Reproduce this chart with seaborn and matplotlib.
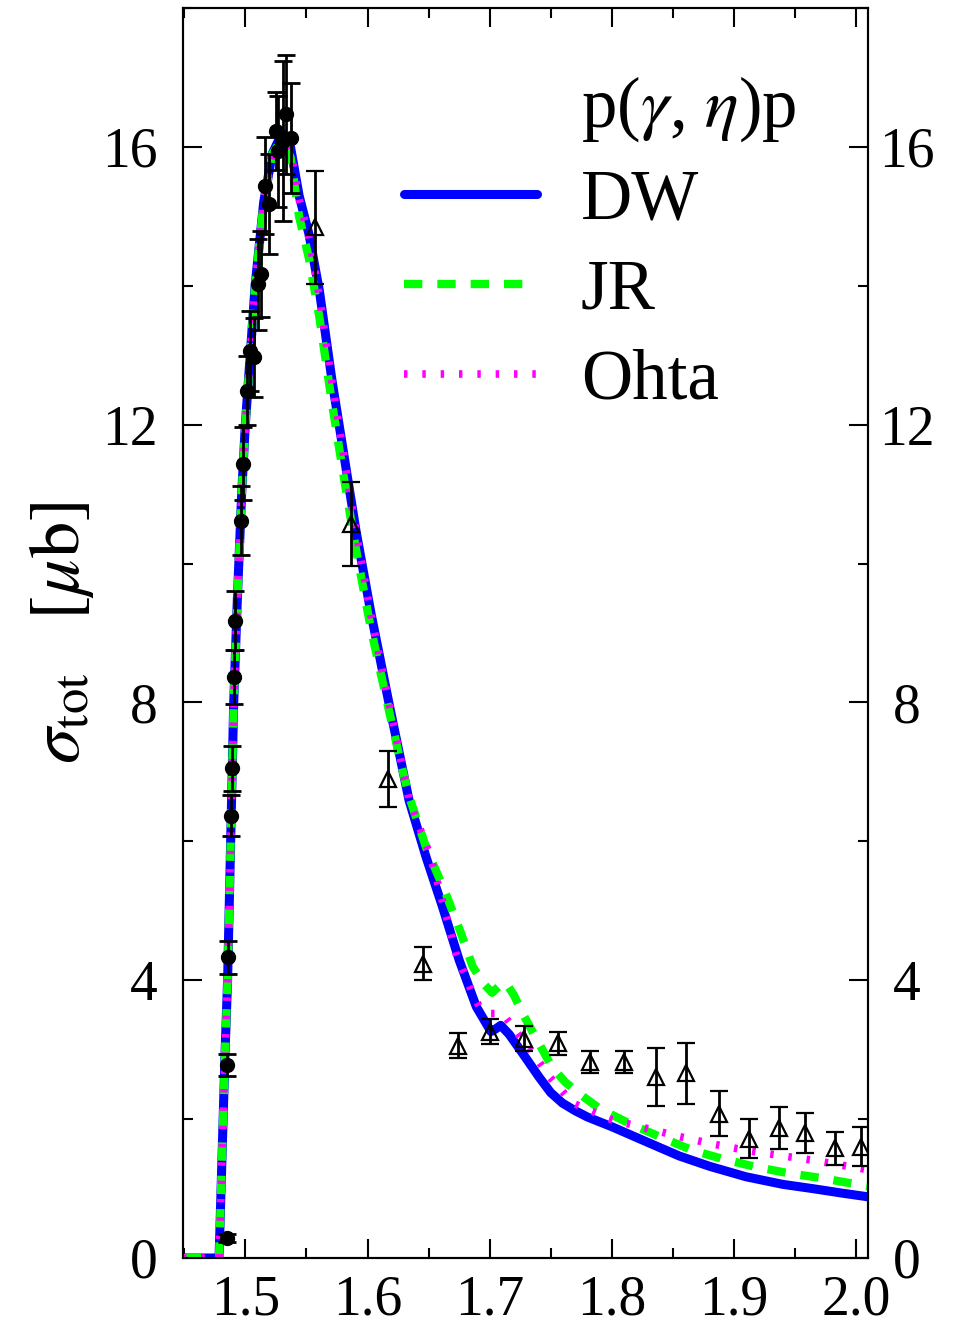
import numpy as np
import pandas as pd
import matplotlib
matplotlib.use("Agg")
import matplotlib.pyplot as plt
import seaborn as sns
from matplotlib.lines import Line2D
from matplotlib.ticker import MultipleLocator

# ---------------- data ----------------
dw_x = [1.449, 1.4785, 1.481, 1.4835, 1.4855, 1.488, 1.4905, 1.4935, 1.497, 1.500, 1.504, 1.508,
        1.515, 1.522, 1.530, 1.537, 1.544, 1.552, 1.5606, 1.571, 1.581, 1.5906, 1.6029, 1.618,
        1.634, 1.648, 1.6615, 1.675, 1.689, 1.701, 1.705, 1.709, 1.716, 1.728, 1.7406, 1.750,
        1.7596, 1.770, 1.780, 1.800, 1.830, 1.855, 1.880, 1.9097, 1.940, 1.964, 1.990, 2.010]
dw_y = [0, 0, 1.5, 3.0, 4.0, 6.0, 8.0, 9.5, 11.0, 12.0, 13.0, 14.0,
        15.2, 15.9, 16.2, 16.0, 15.3, 14.75, 13.93, 12.63, 11.53, 10.47, 9.28, 7.95,
        6.59, 5.77, 5.05, 4.29, 3.62, 3.26, 3.30, 3.35, 3.22, 2.92, 2.60, 2.38,
        2.23, 2.12, 2.03, 1.89, 1.66, 1.47, 1.32, 1.17, 1.06, 1.00, 0.93, 0.88]

jr_x = [1.449, 1.4785, 1.481, 1.4835, 1.4855, 1.488, 1.4905, 1.4935, 1.497, 1.500, 1.504, 1.508,
        1.515, 1.522, 1.530, 1.537, 1.544, 1.552, 1.5606, 1.571, 1.581, 1.5906, 1.6029, 1.618,
        1.628, 1.634, 1.648, 1.664, 1.676, 1.686, 1.695, 1.702, 1.708, 1.713, 1.720, 1.727,
        1.740, 1.751, 1.762, 1.773, 1.790, 1.814, 1.840, 1.866, 1.890, 1.918, 1.945, 1.972, 2.010]
jr_y = [0, 0, 1.5, 3.0, 4.0, 6.0, 8.0, 9.5, 11.0, 12.0, 13.0, 14.0,
        15.2, 15.9, 16.1, 15.85, 15.0, 14.4, 13.55, 12.3, 11.2, 10.2, 9.05, 7.85,
        7.07, 6.65, 5.91, 5.25, 4.7, 4.2, 3.95, 3.82, 3.92, 3.97, 3.78, 3.52,
        3.1, 2.75, 2.53, 2.37, 2.15, 1.94, 1.74, 1.55, 1.43, 1.31, 1.22, 1.15, 1.03]

oh_x = [1.449, 1.4785, 1.481, 1.4835, 1.4855, 1.488, 1.4905, 1.4935, 1.497, 1.500, 1.504, 1.508,
        1.515, 1.522, 1.530, 1.537, 1.544, 1.552, 1.5606, 1.571, 1.581, 1.5906, 1.6029, 1.618,
        1.634, 1.6506, 1.659, 1.672, 1.686, 1.6915, 1.700, 1.7106, 1.720, 1.7406, 1.749, 1.768,
        1.800, 1.830, 1.855, 1.880, 1.910, 1.940, 1.964, 2.010]
oh_y = [0, 0, 1.5, 3.0, 4.0, 6.0, 8.0, 9.5, 11.0, 12.0, 13.0, 14.0,
        15.2, 15.9, 16.15, 15.95, 15.25, 14.7, 13.85, 12.6, 11.5, 10.45, 9.25, 7.95,
        6.6, 5.83, 5.3, 4.4, 3.81, 3.62, 3.52, 3.52, 3.3, 2.82, 2.61, 2.23,
        1.99, 1.86, 1.75, 1.65, 1.55, 1.47, 1.41, 1.27]

circ_x = [1.4853, 1.4853, 1.4860, 1.4885, 1.4894, 1.4908, 1.4919, 1.4962, 1.4984, 1.5016,
          1.5041, 1.5071, 1.5101, 1.5128, 1.5164, 1.5196, 1.5250, 1.5264, 1.5305, 1.5333, 1.5374]
circ_y = [0.29, 2.78, 4.33, 6.37, 7.05, 8.37, 9.18, 10.62, 11.44, 12.49,
          13.06, 12.97, 14.02, 14.17, 15.44, 15.18, 16.23, 15.94, 16.09, 16.47, 16.13]
circ_e = [0.06, 0.16, 0.24, 0.30, 0.33, 0.39, 0.43, 0.49, 0.53, 0.50,
          0.57, 0.57, 0.65, 0.62, 0.70, 0.72, 0.56, 0.80, 1.15, 0.86, 0.79]

tri_x = [1.5570, 1.5865, 1.6165, 1.6453, 1.6737, 1.7005, 1.7283, 1.7561, 1.7823, 1.8096,
         1.8357, 1.8603, 1.8873, 1.9124, 1.9364, 1.9583, 1.9823, 2.0038]
tri_y = [14.84, 10.57, 6.90, 4.24, 3.06, 3.26, 3.16, 3.09, 2.82, 2.82,
         2.61, 2.66, 2.08, 1.72, 1.87, 1.80, 1.58, 1.60]
tri_e = [0.82, 0.61, 0.40, 0.24, 0.18, 0.18, 0.18, 0.17, 0.16, 0.16,
         0.42, 0.44, 0.33, 0.28, 0.30, 0.29, 0.24, 0.28]

x_ticks = [1.5, 1.6, 1.7, 1.8, 1.9, 2.0]
y_ticks = [0, 4, 8, 12, 16]

# ---------------- style ----------------
sns.set_theme(style="ticks")
plt.rcParams["font.family"] = ["Liberation Serif", "DejaVu Serif"]
plt.rcParams["mathtext.fontset"] = "stix"
for k in ["text.color", "axes.labelcolor", "xtick.color", "ytick.color",
          "axes.edgecolor"]:
    plt.rcParams[k] = "black"

W, H = 966, 1329
fig = plt.figure(figsize=(W / 100, H / 100), dpi=100)
ax = fig.add_axes([183 / W, 1 - 1258 / H, 685 / W, 1250 / H])

sns.lineplot(x=dw_x, y=dw_y, ax=ax, color="#0000ff", lw=6.5, sort=False,
             estimator=None, solid_capstyle="butt", zorder=2)
sns.lineplot(x=jr_x, y=jr_y, ax=ax, color="#00ff00", lw=6.0, sort=False,
             estimator=None, linestyle=(0, (2.2, 1.8)), zorder=3)
sns.lineplot(x=oh_x, y=oh_y, ax=ax, color="#ff00ff", lw=5.5, sort=False,
             estimator=None, linestyle=(0, (0.45, 1.95)), zorder=4)

ax.errorbar(circ_x, circ_y, yerr=circ_e, fmt="o", color="black", ms=10,
            capsize=6.5, elinewidth=2, capthick=2, zorder=6)
ax.errorbar(tri_x, tri_y, yerr=tri_e, fmt="^", color="black", mfc="none",
            mec="black", mew=1.6, ms=11, capsize=6.5, elinewidth=2,
            capthick=2, zorder=6)

ax.set_xlim(1.449, 2.0096)
ax.set_ylim(0, 18)
ax.set_xticks(x_ticks)
ax.set_xticklabels([f"{v:.1f}" for v in x_ticks])
ax.set_yticks(y_ticks)
ax.set_yticklabels([str(v) for v in y_ticks])
ax.xaxis.set_minor_locator(MultipleLocator(0.05))
ax.yaxis.set_minor_locator(MultipleLocator(2))

for s in ax.spines.values():
    s.set_linewidth(1.5)
    s.set_color("black")
ax.tick_params(which="both", direction="in", top=True, right=True,
               width=1.5, color="black", labelcolor="black")
ax.tick_params(which="major", length=14, labelsize=40, pad=18)
ax.tick_params(which="minor", length=7)
ax.tick_params(axis="x", which="major", pad=12)

# right-hand labels, centred like the original
ax2 = ax.twinx()
ax2.set_ylim(ax.get_ylim())
ax2.set_yticks(y_ticks)
ax2.set_yticklabels([str(v) for v in y_ticks])
ax2.yaxis.set_minor_locator(MultipleLocator(2))
ax2.tick_params(which="both", direction="in", width=1.5, color="black",
                labelcolor="black")
ax2.tick_params(which="major", length=14, labelsize=40, pad=28)
ax2.tick_params(which="minor", length=7)
for lab in ax2.get_yticklabels():
    lab.set_horizontalalignment("center")
for s in ax2.spines.values():
    s.set_linewidth(1.5)
    s.set_color("black")

ax.set_ylabel(r"$\sigma_{\mathrm{tot}}\ \ \ [\mu\mathrm{b}]$", fontsize=52,
              color="black")
ax.yaxis.set_label_coords(-0.127, 0.5)

handles = [Line2D([], [], color="none"),
           Line2D([], [], color="#0000ff", lw=6.5),
           Line2D([], [], color="#00ff00", lw=6.0, linestyle=(0, (2.2, 1.8))),
           Line2D([], [], color="#ff00ff", lw=5.5, linestyle=(0, (0.45, 1.95)))]
labels = [r"p($\gamma$, $\eta$)p", "DW", "JR", "Ohta"]
leg = ax.legend(handles, labels, loc="upper left", bbox_to_anchor=(0.322, 0.947),
                frameon=False, fontsize=51, handlelength=1.88, handletextpad=0.62,
                labelspacing=0.35, borderpad=0, borderaxespad=0)
for t in leg.get_texts():
    t.set_color("black")
leg.set_zorder(10)

fig.savefig("out.png", dpi=100)
